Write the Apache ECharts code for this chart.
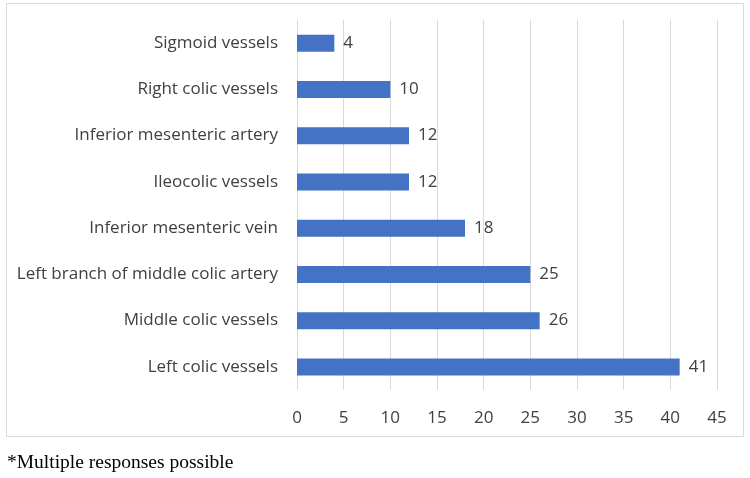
<!DOCTYPE html>
<html>
<head>
<meta charset="utf-8">
<script src="https://cdn.jsdelivr.net/npm/echarts@6/dist/echarts.min.js"></script>
<style>
  html, body { margin: 0; padding: 0; background: #fff; }
  #chart { width: 750px; height: 478px; }
</style>
</head>
<body>
<div id="chart"></div>
<script>
// categories listed bottom to top, as the category axis draws them
const categories = [
  'Left colic vessels',
  'Middle colic vessels',
  'Left branch of middle colic artery',
  'Inferior mesenteric vein',
  'Ileocolic vessels',
  'Inferior mesenteric artery',
  'Right colic vessels',
  'Sigmoid vessels'
];
const counts = [41, 26, 25, 18, 12, 12, 10, 4];
const axisMin = 0;
const axisMax = 45;
const axisStep = 5;
const footnote = '*Multiple responses possible';

const chart = echarts.init(document.getElementById('chart'));
const textColor = '#404040';
const font = 'Open Sans';

chart.setOption({
  animation: false,
  grid: { left: 297, right: 33, top: 20, bottom: 88 },
  xAxis: {
    type: 'value',
    min: axisMin,
    max: axisMax,
    interval: axisStep,
    axisLine: { show: false },
    axisTick: { show: false },
    axisLabel: { color: textColor, fontFamily: font, fontSize: 17, margin: 20 },
    splitLine: { lineStyle: { color: '#d9d9d9', width: 1 } }
  },
  yAxis: {
    type: 'category',
    data: categories,
    axisLine: { show: false },
    axisTick: { show: false },
    axisLabel: { color: textColor, fontFamily: font, fontSize: 17, margin: 19 }
  },
  series: [{
    type: 'bar',
    data: counts,
    barWidth: 17,
    itemStyle: { color: '#4472C4' },
    label: {
      show: true,
      position: 'right',
      distance: 9,
      color: textColor,
      fontFamily: font,
      fontSize: 17
    }
  }],
  graphic: [
    {
      type: 'rect',
      shape: { x: 6.5, y: 3.5, width: 737, height: 433 },
      style: { fill: 'none', stroke: '#d9d9d9', lineWidth: 1 },
      z: -1
    },
    {
      type: 'text',
      left: 7,
      top: 453,
      style: {
        text: footnote,
        fill: '#000',
        font: '19.5px "Liberation Serif"'
      }
    }
  ]
});
</script>
</body>
</html>
